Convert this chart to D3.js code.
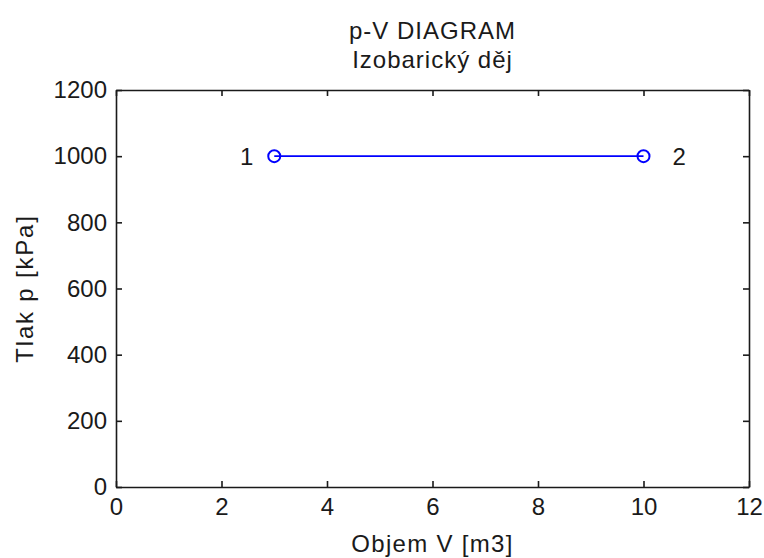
<!DOCTYPE html>
<html>
<head>
<meta charset="utf-8">
<script src="https://cdn.jsdelivr.net/npm/d3@7"></script>
<style>
  html, body { margin: 0; padding: 0; background: #fff; }
  svg { display: block; }
  text { font-family: "Liberation Sans", Arial, sans-serif; fill: #1a1a1a; }
</style>
</head>
<body>
<svg id="chart" width="764" height="558"></svg>
<script>
// Isobaric process: state points (volume in m3, pressure in kPa)
const volumes = [3, 10];
const pressures = [1000, 1000];
const pointLabels = ["1", "2"];
const labelVolumes = [2.35, 10.55];

const xTicks = [0, 2, 4, 6, 8, 10, 12];
const yTicks = [0, 200, 400, 600, 800, 1000, 1200];

const titleLines = ["p-V DIAGRAM", "Izobarický děj"];
const xLabel = "Objem V [m3]";
const yLabel = "Tlak p [kPa]";

const svg = d3.select("#chart");
const margin = { left: 116, right: 15, top: 90, bottom: 71 };
const W = 764, H = 558;

const x = d3.scaleLinear().domain([0, 12]).range([margin.left, W - margin.right]);
const y = d3.scaleLinear().domain([0, 1200]).range([H - margin.bottom, margin.top]);

const tickLen = 6;
const axisColor = "#1a1a1a";
const fmt = d3.format("d");

function styleAxis(g, keepLabels) {
  g.selectAll("path.domain").attr("stroke", axisColor).attr("stroke-width", 1.6);
  g.selectAll(".tick line").attr("stroke", axisColor).attr("stroke-width", 1.6);
  if (keepLabels) {
    g.selectAll(".tick text")
      .style("font-family", '"Liberation Sans", Arial, sans-serif')
      .style("font-size", "24px")
      .attr("fill", "#1a1a1a");
  } else {
    g.selectAll(".tick text").remove();
  }
}

// Bottom axis with labels
const gx = svg.append("g")
  .attr("transform", `translate(0,${y(0)})`)
  .call(d3.axisBottom(x).tickValues(xTicks).tickFormat(fmt).tickSizeInner(-tickLen).tickSizeOuter(0).tickPadding(11));
styleAxis(gx, true);

// Top axis (frame only)
const gxTop = svg.append("g")
  .attr("transform", `translate(0,${y(1200)})`)
  .call(d3.axisTop(x).tickValues(xTicks).tickSizeInner(-tickLen).tickSizeOuter(0));
styleAxis(gxTop, false);

// Left axis with labels
const gy = svg.append("g")
  .attr("transform", `translate(${x(0)},0)`)
  .call(d3.axisLeft(y).tickValues(yTicks).tickFormat(fmt).tickSizeInner(-tickLen).tickSizeOuter(0).tickPadding(9));
styleAxis(gy, true);

// Right axis (frame only)
const gyRight = svg.append("g")
  .attr("transform", `translate(${x(12)},0)`)
  .call(d3.axisRight(y).tickValues(yTicks).tickSizeInner(-tickLen).tickSizeOuter(0));
styleAxis(gyRight, false);

// Connecting line and markers
const pts = volumes.map((v, i) => ({ v, p: pressures[i] }));
svg.append("path")
  .datum(pts)
  .attr("fill", "none")
  .attr("stroke", "#0000ff")
  .attr("stroke-width", 1.8)
  .attr("d", d3.line().x(d => x(d.v)).y(d => y(d.p)));

svg.selectAll("circle.pt")
  .data(pts)
  .join("circle")
  .attr("class", "pt")
  .attr("cx", d => x(d.v))
  .attr("cy", d => y(d.p))
  .attr("r", 6)
  .attr("fill", "none")
  .attr("stroke", "#0000ff")
  .attr("stroke-width", 2);

svg.selectAll("text.ptlabel")
  .data(pointLabels)
  .join("text")
  .attr("class", "ptlabel")
  .attr("x", (d, i) => x(labelVolumes[i]))
  .attr("y", (d, i) => y(pressures[i]))
  .attr("dy", "0.36em")
  .style("font-size", "24px")
  .text(d => d);

// Title
svg.selectAll("text.title")
  .data(titleLines)
  .join("text")
  .attr("class", "title")
  .attr("x", (x(0) + x(12)) / 2)
  .attr("y", (d, i) => 39 + i * 29)
  .attr("text-anchor", "middle")
  .style("font-size", "24px")
  .style("letter-spacing", "1px")
  .text(d => d);

// Axis labels
svg.append("text")
  .attr("x", (x(0) + x(12)) / 2)
  .attr("y", 552)
  .attr("text-anchor", "middle")
  .style("font-size", "24px")
  .style("letter-spacing", "1.3px")
  .text(xLabel);

svg.append("text")
  .attr("transform", `translate(33,${(y(0) + y(1200)) / 2}) rotate(-90)`)
  .attr("text-anchor", "middle")
  .style("font-size", "24px")
  .style("letter-spacing", "1.8px")
  .text(yLabel);
</script>
</body>
</html>
